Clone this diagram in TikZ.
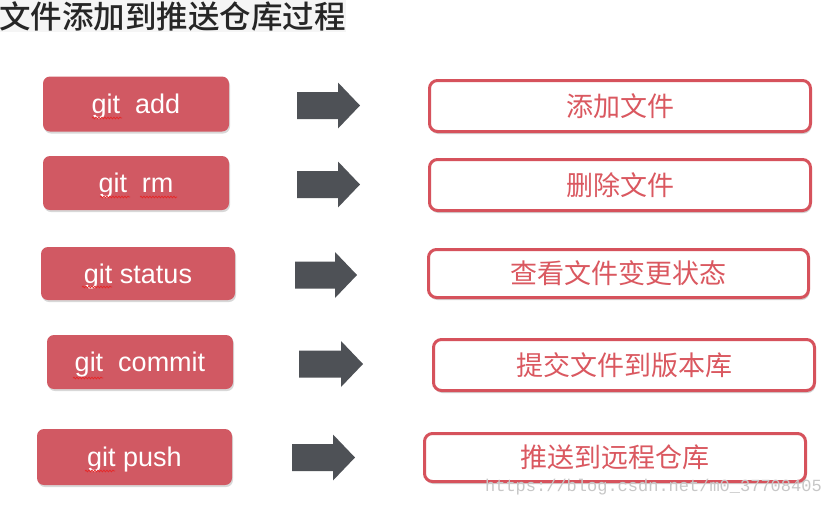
\documentclass[tikz,border=0pt]{standalone}
\usepackage{fontspec}
\setmainfont{Liberation Sans}
\newfontfamily\cjk{Noto Sans CJK SC}
\newfontfamily\cjkbold{Noto Sans CJK SC Medium}
\newfontfamily\wmfont{Liberation Mono}
\usetikzlibrary{shadows,decorations.pathmorphing}
\definecolor{cmdred}{RGB}{209,89,99}
\definecolor{boxred}{RGB}{214,82,92}
\definecolor{txtred}{RGB}{218,88,96}
\definecolor{arrgray}{RGB}{78,81,86}
\definecolor{spellred}{RGB}{230,40,40}
\tikzset{
  cmdbox/.style={fill=cmdred, draw=none, rounded corners=7pt, text=white,
    font=\fontsize{27}{30}\selectfont, inner sep=0pt, text height=19pt, text depth=0pt,
    drop shadow={opacity=0.3, shadow xshift=1pt, shadow yshift=-2pt}},
  descbox/.style={fill=white, draw=boxred, line width=3pt, rounded corners=8pt,
    text=txtred, font=\cjk\fontsize{27}{30}\selectfont, inner sep=0pt,
    drop shadow={opacity=0.35, shadow xshift=1pt, shadow yshift=-2.5pt}},
  blockarr/.style={fill=arrgray},
  spell/.style={draw=spellred, line width=0.7pt,
    decorate, decoration={snake, segment length=3pt, amplitude=0.9pt}}
}
\newcommand\blockarrow[3]{% x0, x1, yc
  \fill[blockarr] (#1,#3-13.5) -- (#2-22,#3-13.5) -- (#2-22,#3-23) -- (#2,#3)
    -- (#2-22,#3+23) -- (#2-22,#3+13.5) -- (#1,#3+13.5) -- cycle;}
\begin{document}
\begin{tikzpicture}[x=1pt,y=-1pt]
\useasboundingbox (0,0) rectangle (831,507);
\fill[white] (0,0) rectangle (831,507);
\fill[black!4] (0,0) rectangle (346,32);
\node[anchor=west, inner sep=0pt, font=\cjkbold\fontsize{31.5}{34}\selectfont, text=black!85] (title) at (-1,16) {文件添加到推送仓库过程};

\node[cmdbox, minimum width=186pt, minimum height=55pt] (c1) at (136,104) {git\ \ add};
\node[cmdbox, minimum width=186pt, minimum height=54pt] (c2) at (136,183) {git\ \ rm};
\node[cmdbox, minimum width=194pt, minimum height=53pt] (c3) at (138,273.5) {git status};
\node[cmdbox, minimum width=186pt, minimum height=54pt] (c4) at (140,362) {git\ \ commit};
\node[cmdbox, minimum width=195pt, minimum height=56pt] (c5) at (134.5,457) {git push};

\draw[spell] (92,118) -- (122,118);
\draw[spell] (100,197) -- (130,197);
\draw[spell] (140,197) -- (177,197);
\draw[spell] (82,287) -- (112,287);
\draw[spell] (73,378) -- (103,378);
\draw[spell] (85,471) -- (115,471);

\blockarrow{297}{360}{105.5}
\blockarrow{297}{360}{184.5}
\blockarrow{295}{357}{275}
\blockarrow{299}{363}{364}
\blockarrow{292}{355}{457.5}

\node[descbox, minimum width=381pt, minimum height=51pt] (d1) at (620,106) {添加文件};
\node[descbox, minimum width=381pt, minimum height=51pt] (d2) at (620,185) {删除文件};
\node[descbox, minimum width=380pt, minimum height=48pt] (d3) at (618.5,273.5) {查看文件变更状态};
\node[descbox, minimum width=381pt, minimum height=51pt] (d4) at (624,365) {提交文件到版本库};
\node[descbox, minimum width=381pt, minimum height=48pt] (d5) at (615,457.5) {推送到远程仓库};

\node[anchor=east, inner sep=0pt, text=black!22, font=\wmfont\fontsize{17}{18}\selectfont] (wm) at (822,487) {https://blog.csdn.net/m0\_37708405};
\end{tikzpicture}
\end{document}
